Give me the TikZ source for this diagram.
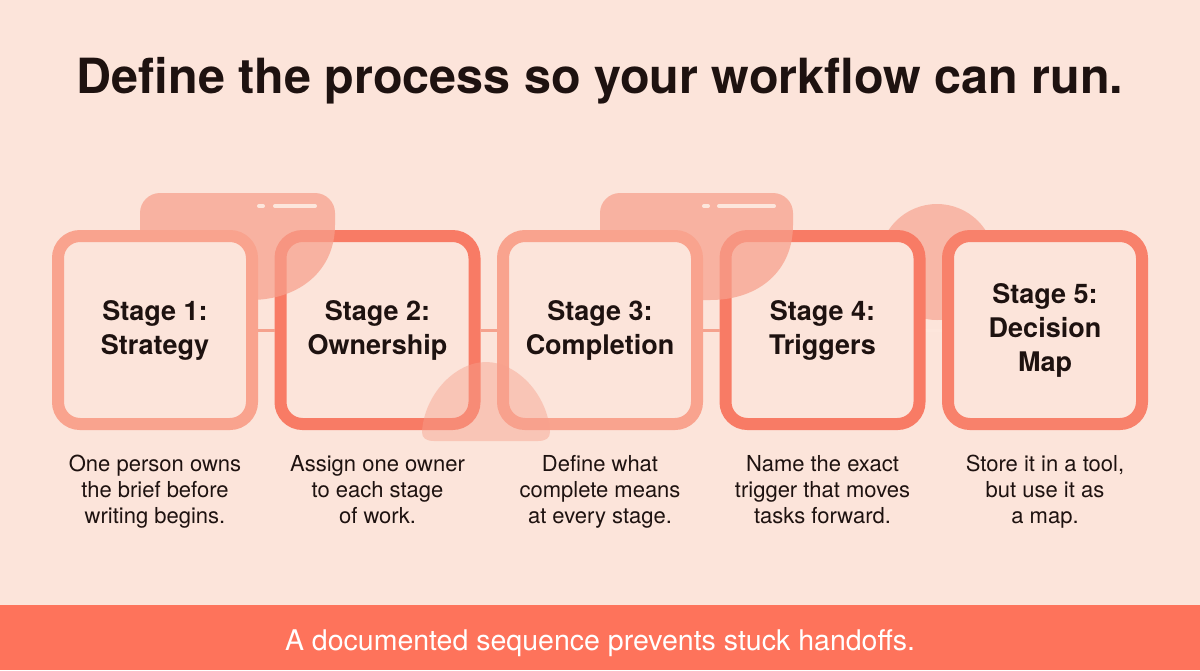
\documentclass[tikz,border=0pt]{standalone}
\usepackage{fontspec}
\setmainfont{TeX Gyre Heros}
\definecolor{bg}{HTML}{FCE4DA}
\definecolor{banner}{HTML}{FE735B}
\definecolor{ink}{HTML}{1E1210}
\definecolor{strokeA}{HTML}{F9A38E}
\definecolor{strokeB}{HTML}{F87B65}
\definecolor{blob}{HTML}{F7A08C}
\definecolor{pill}{HTML}{FDE6DC}
\definecolor{link}{HTML}{F5A28E}
\tikzset{
  stagebox/.style={rectangle, rounded corners=22pt, line width=12pt, fill=bg,
    minimum width=194pt, minimum height=188pt, inner sep=0pt, align=center,
    text=ink, font=\fontsize{27}{34}\selectfont\bfseries},
  desc/.style={anchor=north, align=center, text=ink, inner sep=0pt,
    font=\fontsize{22}{26}\selectfont},
  blobfill/.style={fill=blob, fill opacity=0.72},
  pillline/.style={draw=pill, line width=4pt, line cap=round},
  connector/.style={draw=link, line width=3pt}
}
\begin{document}
\begin{tikzpicture}[x=1pt,y=-1pt]
\useasboundingbox (0,0) rectangle (1200,670);
\fill[bg] (0,0) rectangle (1200,670);
\fill[banner] (0,605) rectangle (1200,670);

\node[anchor=base, text=ink, font=\fontsize{48.5}{52}\selectfont\bfseries] (title) at (600,93)
  {Define the process so your workflow can run.};

% circle behind boxes 4 and 5
\fill[blobfill, fill opacity=0.65] (937,262) circle (58);

% even boxes (under blobs)
\node[stagebox, draw=strokeB] (s2) at (377.5,330) {Stage 2:\\Ownership};
\node[stagebox, draw=strokeB] (s4) at (822.5,330) {Stage 4:\\Triggers};

% blobs above
\fill[blobfill] (140,300) -- (140,213) arc[start angle=180, end angle=270, radius=20]
  -- (315,193) arc[start angle=270, end angle=360, radius=20] -- (335,225)
  .. controls (335,270) and (300,300) .. (250,300) -- cycle;
\fill[blobfill] (600,300) -- (600,213) arc[start angle=180, end angle=270, radius=20]
  -- (773,193) arc[start angle=270, end angle=360, radius=20] -- (793,225)
  .. controls (793,270) and (760,300) .. (710,300) -- cycle;
\draw[pillline] (259,206) -- (263,206);
\draw[pillline] (275,206) -- (315,206);
\draw[pillline] (704,206) -- (708,206);
\draw[pillline] (719,206) -- (774,206);

% odd boxes
\node[stagebox, draw=strokeA] (s1) at (155,330) {Stage 1:\\Strategy};
\node[stagebox, draw=strokeA] (s3) at (600,330) {Stage 3:\\Completion};
\node[stagebox, draw=strokeB!85!strokeA] (s5) at (1045,330) {Stage 5:\\Decision\\Map};

% connectors
\draw[connector] (s1.east) -- (s2.west);
\draw[connector] (s2.east) -- (s3.west);
\draw[connector] (s3.east) -- (s4.west);
\draw[connector, draw=pill] (s4.east) -- (s5.west);

% dome on top
\fill[blob, fill opacity=0.45] (422,432)
  .. controls (424,395) and (455,362) .. (486,362)
  .. controls (517,362) and (548,395) .. (550,432)
  .. controls (550,438) and (546,441) .. (538,441)
  -- (434,441) .. controls (426,441) and (422,438) .. (422,432) -- cycle;

% descriptions
\node[desc] (d1) at (155,455) {One person owns\\the brief before\\writing begins.};
\node[desc] (d2) at (377.5,455) {Assign one owner\\to each stage\\of work.};
\node[desc] (d3) at (600,455) {Define what\\complete means\\at every stage.};
\node[desc] (d4) at (822.5,455) {Name the exact\\trigger that moves\\tasks forward.};
\node[desc] (d5) at (1045,455) {Store it in a tool,\\but use it as\\a map.};

\node[anchor=base, text=white, font=\fontsize{28.5}{32}\selectfont] (foot) at (600,650)
  {A documented sequence prevents stuck handoffs.};
\end{tikzpicture}
\end{document}
